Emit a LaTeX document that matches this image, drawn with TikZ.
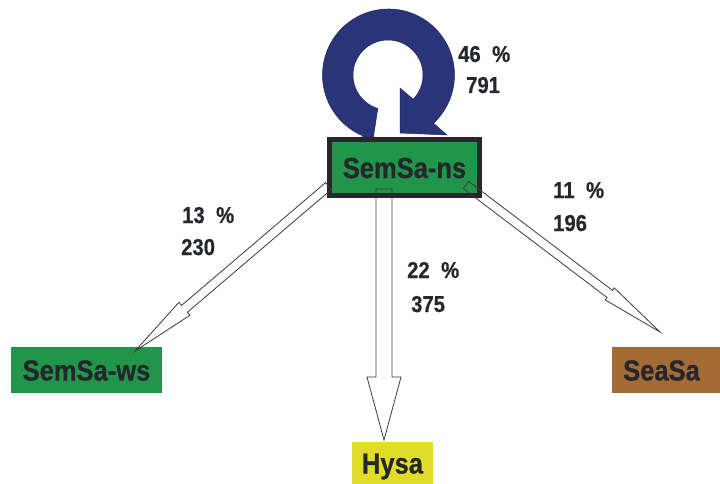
\documentclass[tikz,border=0pt]{standalone}
\usepackage{fontspec}
\usetikzlibrary{calc}
\newfontfamily\diagfont[FakeStretch=0.88, BoldFeatures={FakeBold=0.6}]{Liberation Sans}
\definecolor{boxgreen}{HTML}{21964A}
\definecolor{inkdark}{HTML}{24272B}
\definecolor{hyyellow}{HTML}{E1DC2A}
\definecolor{seabrown}{HTML}{A56B35}
\definecolor{loopblue}{HTML}{2A3479}
\definecolor{arrowgray}{HTML}{3A3A3A}

\tikzset{
  x=1pt, y=-1pt,
  boxlabel/.style={font=\diagfont\bfseries\fontsize{29}{32}\selectfont, text=inkdark,
    inner sep=0pt, text height=21pt, text depth=0pt},
  numlabel/.style={font=\diagfont\bfseries\fontsize{23}{26}\selectfont, text=inkdark,
    inner sep=0pt, anchor=base west},
  flowarrow/.style={draw=arrowgray, line width=0.8pt, line join=miter},
}

% hollow block arrow: start, tip, shaft half width, head half width, head length
\newcommand\hollowarrow[5]{%
  \draw[flowarrow] let \p1=(#1), \p2=(#2), \n1={atan2(\y2-\y1,\x2-\x1)} in
    ($(\p1)+({\n1+90}:#3)$)
    -- ($(\p2)+({\n1+180}:#5)+({\n1+90}:#3)$)
    -- ($(\p2)+({\n1+180}:#5)+({\n1+90}:#4)$)
    -- (\p2)
    -- ($(\p2)+({\n1+180}:#5)+({\n1-90}:#4)$)
    -- ($(\p2)+({\n1+180}:#5)+({\n1-90}:#3)$)
    -- ($(\p1)+({\n1-90}:#3)$) -- cycle;
}

\begin{document}
\begin{tikzpicture}
\useasboundingbox (0,0) rectangle (720,484);

% self-loop of SemSa-ns
\coordinate (lc) at (388.5,75);
\coordinate (hc) at (388,75);
\fill[loopblue, draw=loopblue!75!black, line width=0.5pt]
  (362,140) -- ($(lc)+(247:66pt)$) arc[start angle=247, end angle=-47, radius=66pt]
  -- (447,135) -- (400,133) -- (400,88)
  -- ($(hc)+(-44:35pt)$) arc[start angle=-44, end angle=253, radius=35pt]
  -- (373,140) -- cycle;

% state boxes
\node[boxlabel, draw=inkdark, line width=5pt, fill=boxgreen,
      minimum width=150pt, minimum height=56pt] (ns) at (404.5,167.5) {SemSa-ns};
\node[boxlabel, fill=boxgreen, minimum width=151pt, minimum height=46pt] (ws) at (86.5,370) {SemSa-ws};
\node[boxlabel, fill=hyyellow, minimum width=81pt, minimum height=42pt] (hysa) at (392.5,463) {Hysa};
\node[boxlabel, fill=seabrown, minimum width=108pt, minimum height=46pt] (seasa) at (666,370) {SeaSa\kern9pt};

% arrow ends
\coordinate (sL) at (328.5,186);
\coordinate (tL) at (135,351);
\coordinate (sD) at (384,189);
\coordinate (tD) at (384,440);
\coordinate (sR) at (466,185);
\coordinate (tR) at (660,332);

\hollowarrow{sL}{tL}{4.5pt}{8.5pt}{65pt}
\hollowarrow{sD}{tD}{8pt}{17pt}{63pt}
\hollowarrow{sR}{tR}{4.5pt}{7.5pt}{63pt}

% transition shares and counts
\node[numlabel] (p46) at (458,62) {46\hspace{0.5em}\%};
\node[numlabel] (n791) at (466,93) {791};
\node[numlabel] (p13) at (182,223) {13\hspace{0.5em}\%};
\node[numlabel] (n230) at (181,255) {230};
\node[numlabel] (p22) at (407,278) {22\hspace{0.5em}\%};
\node[numlabel] (n375) at (411,312) {375};
\node[numlabel] (p11) at (553,198) {11\hspace{0.5em}\%};
\node[numlabel] (n196) at (553,231) {196};
\end{tikzpicture}
\end{document}
